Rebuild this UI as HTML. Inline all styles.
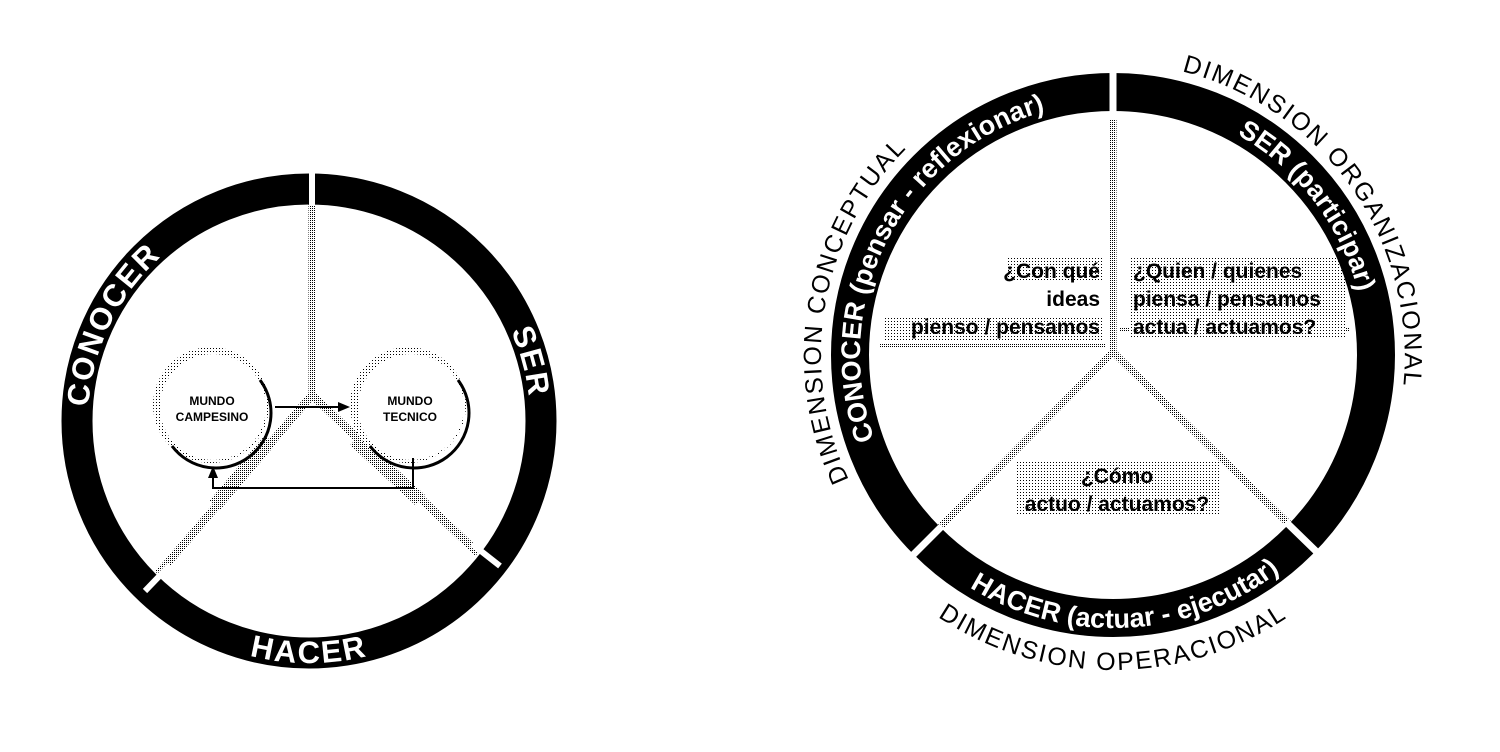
<!DOCTYPE html>
<html><head><meta charset="utf-8"><style>
html,body{margin:0;padding:0;background:#fff;}
svg{display:block;}
text{font-family:"Liberation Sans",Arial,sans-serif;}
</style></head><body>
<svg width="1500" height="752" viewBox="0 0 1500 752" xmlns="http://www.w3.org/2000/svg">
<defs>
<pattern id="st" width="3" height="3" patternUnits="userSpaceOnUse">
<rect width="3" height="3" fill="#fff"/><rect width="1" height="1" fill="#000"/>
</pattern>
<pattern id="st2" width="2" height="2" patternUnits="userSpaceOnUse">
<rect width="2" height="2" fill="#fff"/><rect width="1" height="1" fill="#000"/>
</pattern>
<path id="lCon" d="M101.3,496.6 A221,221 0 0 1 240.7,210.8"/>
<path id="lSer" d="M451.1,251.7 A221,221 0 0 1 516.7,496.6"/>
<path id="lHac" d="M153.4,606.4 A242,242 0 0 0 464.6,606.4"/>
<path id="rCon" d="M883.7,461.9 A253,253 0 0 1 1069.1,105.8"/>
<path id="rSer" d="M1178.5,110.6 A253,253 0 0 1 1366,355"/>
<path id="rHac" d="M930.3,557.9 A273,273 0 0 0 1315.9,537.7"/>
<path id="oCon" d="M860.1,501 A292,292 0 0 1 925.3,131.3"/>
<path id="oOrg" d="M1163.7,67.4 A294,294 0 0 1 1400.6,405.7"/>
<path id="oOpe" d="M910.5,596.3 A315,315 0 0 0 1315.5,596.3"/>
</defs>

<!-- LEFT DIAGRAM -->
<g fill="none" stroke="url(#st2)">
<line x1="312" y1="190" x2="312" y2="395" stroke-width="7"/>
<line x1="312" y1="395" x2="158" y2="574" stroke-width="8"/>
<line x1="312" y1="395" x2="478" y2="553" stroke-width="8"/>
<line x1="270" y1="440" x2="215" y2="505" stroke-width="14"/>
<line x1="355" y1="440" x2="420" y2="500" stroke-width="14"/>
</g>
<circle cx="309" cy="421" r="232" fill="none" stroke="#000" stroke-width="31"/>
<g stroke="#fff" stroke-width="6">
<line x1="312" y1="160" x2="312" y2="205"/>
<line x1="145" y1="591" x2="170" y2="565"/>
<line x1="472" y1="544" x2="500" y2="566"/>
</g>
<g font-size="31" fill="#fff" font-weight="bold" letter-spacing="2">
<text><textPath href="#lCon" startOffset="50%" text-anchor="middle">CONOCER</textPath></text>
<text><textPath href="#lSer" startOffset="50%" text-anchor="middle">SER</textPath></text>
<text><textPath href="#lHac" startOffset="50%" text-anchor="middle">HACER</textPath></text>
</g>
<!-- mundo circles -->
<circle cx="211" cy="405" r="58" fill="url(#st)"/>
<circle cx="213" cy="407" r="53" fill="#fff"/>
<path d="M260,380 A53,53 0 0 1 172,446" fill="none" stroke="#000" stroke-width="3"/>
<circle cx="408" cy="405" r="58" fill="url(#st)"/>
<circle cx="411" cy="407" r="53" fill="#fff"/>
<path d="M458,380 A53,53 0 0 1 370,446" fill="none" stroke="#000" stroke-width="3"/>
<g font-size="12" text-anchor="middle" fill="#000" font-weight="bold">
<text x="212" y="405">MUNDO</text><text x="212" y="421">CAMPESINO</text>
<text x="410" y="405">MUNDO</text><text x="410" y="421">TECNICO</text>
</g>
<line x1="275" y1="407" x2="340" y2="407" stroke="#000" stroke-width="2"/>
<polygon points="350,407 338,402 338,412" fill="#000"/>
<polyline points="413,458 413,488 213,488 213,478" fill="none" stroke="#000" stroke-width="2"/>
<polygon points="213,466 208,478 218,478" fill="#000"/>

<!-- RIGHT DIAGRAM -->
<g fill="none" stroke="url(#st2)" stroke-width="7">
<line x1="1113" y1="110" x2="1113" y2="352"/>
<line x1="1113" y1="352" x2="937" y2="530"/>
<line x1="1113" y1="352" x2="1290" y2="525"/>
<line x1="880" y1="345" x2="1105" y2="345" stroke-width="4"/>
<line x1="1120" y1="330" x2="1350" y2="330" stroke-width="4"/>
</g>
<rect x="1006" y="258" width="96" height="24" fill="url(#st)"/>
<rect x="1130" y="258" width="216" height="80" fill="url(#st)"/>
<rect x="884" y="316" width="218" height="24" fill="url(#st)"/>
<rect x="1016" y="462" width="204" height="54" fill="url(#st)"/>
<circle cx="1113" cy="355" r="263" fill="none" stroke="#000" stroke-width="38"/>
<g stroke="#fff" stroke-width="7">
<line x1="1113" y1="65" x2="1113" y2="120"/>
<line x1="942" y1="526" x2="905" y2="563"/>
<line x1="1286" y1="522" x2="1323" y2="558"/>
</g>
<g font-size="27" fill="#fff" font-weight="bold">
<text><textPath href="#rCon" startOffset="50%" text-anchor="middle">CONOCER (pensar - reflexionar)</textPath></text>
<text><textPath href="#rSer" startOffset="50%" text-anchor="middle">SER (participar)</textPath></text>
<text><textPath href="#rHac" startOffset="50%" text-anchor="middle">HACER (actuar - ejecutar)</textPath></text>
</g>
<g font-size="25" fill="#000" letter-spacing="2">
<text><textPath href="#oCon" startOffset="50%" text-anchor="middle">DIMENSION CONCEPTUAL</textPath></text>
<text><textPath href="#oOrg" startOffset="50%" text-anchor="middle">DIMENSION ORGANIZACIONAL</textPath></text>
<text><textPath href="#oOpe" startOffset="50%" text-anchor="middle">DIMENSION OPERACIONAL</textPath></text>
</g>
<g font-size="21" fill="#000" font-weight="bold">
<text x="1100" y="278" text-anchor="end">¿Con qué</text>
<text x="1100" y="306" text-anchor="end">ideas</text>
<text x="1100" y="334" text-anchor="end">pienso  / pensamos</text>
<text x="1133" y="278">¿Quien / quienes</text>
<text x="1133" y="306">piensa / pensamos</text>
<text x="1133" y="334">actua / actuamos?</text>
<text x="1117" y="483" text-anchor="middle">¿Cómo</text>
<text x="1117" y="511" text-anchor="middle">actuo / actuamos?</text>
</g>
</svg>
</body></html>
